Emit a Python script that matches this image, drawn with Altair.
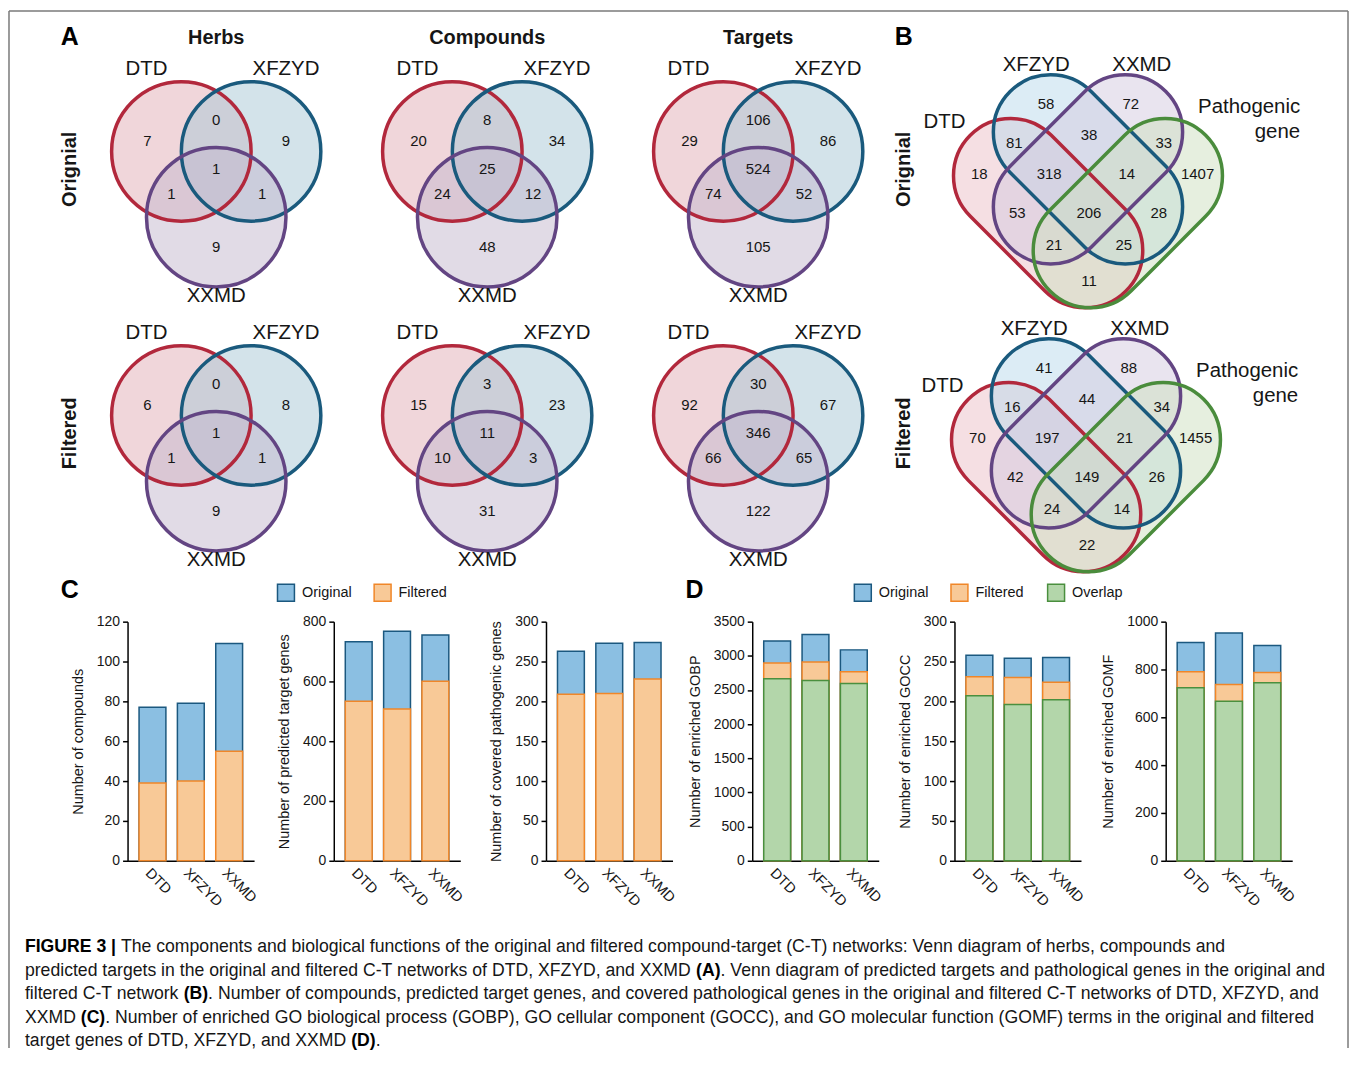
import altair as alt
import pandas as pd

FONT = "Liberation Sans"

# ------------------------------------------------------------------ data
formulas = ["DTD", "XFZYD", "XXMD"]
venn3_titles = ["Herbs", "Compounds", "Targets"]
venn_rows = ["Orignial", "Filtered"]
# region order: DTD only, DTD&XFZYD, XFZYD only, all three, DTD&XXMD, XFZYD&XXMD, XXMD only
herbs_original = [7, 0, 9, 1, 1, 1, 9]
compounds_original = [20, 8, 34, 25, 24, 12, 48]
targets_original = [29, 106, 86, 524, 74, 52, 105]
herbs_filtered = [6, 0, 8, 1, 1, 1, 9]
compounds_filtered = [15, 3, 23, 11, 10, 3, 31]
targets_filtered = [92, 30, 67, 346, 66, 65, 122]

venn4_sets = ["DTD", "XFZYD", "XXMD", "Pathogenic gene"]
venn4_original = [58, 72, 81, 38, 33, 18, 318, 14, 1407, 53, 206, 28, 21, 25, 11]
venn4_filtered = [41, 88, 16, 44, 34, 70, 197, 21, 1455, 42, 149, 26, 24, 14, 22]

series_names = ["Original", "Filtered", "Overlap"]
compounds_orig = [77, 79, 109]
compounds_filt = [39, 40, 55]
target_genes_orig = [733, 768, 755]
target_genes_filt = [534, 508, 601]
patho_genes_orig = [263, 273, 274]
patho_genes_filt = [209, 210, 228]
gobp_orig = [3217, 3313, 3087]
gobp_filt = [2895, 2908, 2766]
gobp_overlap = [2665, 2640, 2595]
gocc_orig = [258, 254, 255]
gocc_filt = [231, 230, 224]
gocc_overlap = [207, 196, 202]
gomf_orig = [913, 953, 900]
gomf_filt = [790, 737, 787]
gomf_overlap = [724, 667, 744]

caption_lines = [
    [("FIGURE 3 | ", True),
     ("The components and biological functions of the original and filtered compound-target (C-T) networks: Venn diagram of herbs, compounds and", False)],
    [("predicted targets in the original and filtered C-T networks of DTD, XFZYD, and XXMD ", False), ("(A)", True),
     (". Venn diagram of predicted targets and pathological genes in the original and", False)],
    [("filtered C-T network ", False), ("(B)", True),
     (". Number of compounds, predicted target genes, and covered pathological genes in the original and filtered C-T networks of DTD, XFZYD, and", False)],
    [("XXMD ", False), ("(C)", True),
     (". Number of enriched GO biological process (GOBP), GO cellular component (GOCC), and GO molecular function (GOMF) terms in the original and filtered", False)],
    [("target genes of DTD, XFZYD, and XXMD ", False), ("(D)", True), (".", False)],
]

# ------------------------------------------------------------------ styles / layout
BORDER = "#7a7a7a"
TXT = "#161616"
SET_STROKE = ["#b2283c", "#1a5a7d", "#634583", "#4a8c3c"]
V3_FILL = ["#e1adb5", "#a7c7d5", "#c3b7cd"]
V4_FILL = ["#ebbfc7", "#b9d9eb", "#d3c9df", "#cddfbf"]
SER_FILL = ["#8bbfe2", "#f8c997", "#b3d6aa"]
SER_STROKE = ["#1b587f", "#f08628", "#4a8f3e"]

PAGE_W = 1345          # drawing width (page x 8 .. 1353)
BAR_TOP, BAR_H = 622, 240
PAGE_BOTTOM = 1050
# the annotation canvas is drawn from the first (spacer) cell of the bar row, in page pixels
XS = alt.Scale(domain=[8, 8 + PAGE_W], range=[0, PAGE_W])
YS = alt.Scale(domain=[8, PAGE_BOTTOM], range=[8 - BAR_TOP, PAGE_BOTTOM - BAR_TOP])

V3_COL_X = [217, 489, 761]
V3_ROW_Y = [172, 437]
V3_R = 70
V3_CIRCLE_OFF = [(-35, -22), (35, -22), (0, 44)]
V3_LABEL_OFF = [(-70, -105), (70, -105), (0, 123)]
V3_REGION_OFF = [(-69, -32), (0, -54), (70, -32), (0, -4), (-45, 21), (46, 21), (0, 74)]

V4_BASES = [(1092, 168), (1090, 433)]
V4_SHAPE_OFF = [(-40, 44, 45), (0, 0, 45), (0, 0, 135), (40, 44, 135)]
V4_L, V4_W = 221.0, 115.0
V4_REGION_OFF = [(-42, -66), (43, -66), (-74, -26), (1, -34), (76, -26), (-109, 5), (-39, 5),
                 (39, 5), (110, 5), (-71, 44), (1, 44), (71, 44), (-34, 76), (36, 76), (1, 112)]
V4_LABEL_OFF = [(-144, -48), (-52, -105), (54, -105)]
V4_PATHO_OFF = [(213, -63), (213, -37)]


def stadium_path(L, W):
    h = W / L
    a = 1.0 - h
    k = 0.5523 * h
    f = lambda v: f"{v:.4f}"
    return (f"M {f(-a)} {f(-h)} L {f(a)} {f(-h)} "
            f"C {f(a + k)} {f(-h)} 1 {f(-k)} 1 0 "
            f"C 1 {f(k)} {f(a + k)} {f(h)} {f(a)} {f(h)} "
            f"L {f(-a)} {f(h)} "
            f"C {f(-a - k)} {f(h)} -1 {f(k)} -1 0 "
            f"C -1 {f(-k)} {f(-a - k)} {f(-h)} {f(-a)} {f(-h)} Z")


def pos():
    return dict(x=alt.X("x:Q", scale=XS, axis=None), y=alt.Y("y:Q", scale=YS, axis=None))


def text_layer(rows, **kw):
    mk = dict(font=FONT, color=TXT)
    mk.update(kw)
    return alt.Chart(pd.DataFrame(rows)).mark_text(**mk).encode(text="t:N", **pos())


# ------------------------------------------------------------------ Venn diagrams
v3_counts = [[herbs_original, compounds_original, targets_original],
             [herbs_filtered, compounds_filtered, targets_filtered]]
circ_rows, num_rows, lab_rows = [], [], []
for ri, by in enumerate(V3_ROW_Y):
    for ci, bx in enumerate(V3_COL_X):
        for si, (dx, dy) in enumerate(V3_CIRCLE_OFF):
            circ_rows.append(dict(x=bx + dx, y=by + dy, fill=V3_FILL[si], stroke=SET_STROKE[si]))
        for (dx, dy), n in zip(V3_REGION_OFF, v3_counts[ri][ci]):
            num_rows.append(dict(x=bx + dx, y=by + dy, t=str(n)))
        for (dx, dy), name in zip(V3_LABEL_OFF, formulas):
            lab_rows.append(dict(x=bx + dx, y=by + dy, t=name))

v4_counts = [venn4_original, venn4_filtered]
shape_rows, patho_rows = [], []
for ri, (bx, by) in enumerate(V4_BASES):
    for si, (dx, dy, ang) in enumerate(V4_SHAPE_OFF):
        shape_rows.append(dict(x=bx + dx, y=by + dy, ang=ang, fill=V4_FILL[si], stroke=SET_STROKE[si]))
    for (dx, dy), n in zip(V4_REGION_OFF, v4_counts[ri]):
        num_rows.append(dict(x=bx + dx, y=by + dy, t=str(n)))
    for (dx, dy), name in zip(V4_LABEL_OFF, venn4_sets[:3]):
        lab_rows.append(dict(x=bx + dx, y=by + dy, t=name))
    for (dx, dy), word in zip(V4_PATHO_OFF, venn4_sets[3].split(" ")):
        patho_rows.append(dict(x=bx + dx, y=by + dy, t=word))

circ_df = pd.DataFrame(circ_rows)
shape_df = pd.DataFrame(shape_rows)
SHAPE = stadium_path(V4_L, V4_W)

circle_fill = alt.Chart(circ_df).mark_point(
    shape="circle", filled=True, size=(2 * V3_R) ** 2, opacity=1, fillOpacity=0.5, strokeWidth=0
).encode(fill=alt.Fill("fill:N", scale=None), **pos())
circle_line = alt.Chart(circ_df).mark_point(
    shape="circle", filled=False, size=(2 * V3_R) ** 2, opacity=1, strokeWidth=3.5
).encode(stroke=alt.Stroke("stroke:N", scale=None), **pos())
shape_fill = alt.Chart(shape_df).mark_point(
    shape=SHAPE, filled=True, size=V4_L ** 2, opacity=1, fillOpacity=0.5, strokeWidth=0
).encode(fill=alt.Fill("fill:N", scale=None), angle=alt.Angle("ang:Q", scale=None), **pos())
shape_line = alt.Chart(shape_df).mark_point(
    shape=SHAPE, filled=False, size=V4_L ** 2, opacity=1, strokeWidth=3.5
).encode(stroke=alt.Stroke("stroke:N", scale=None), angle=alt.Angle("ang:Q", scale=None), **pos())

title_rows = [dict(x=x, y=36, t=t) for x, t in zip(V3_COL_X, venn3_titles)]
rowlab_rows = [dict(x=x, y=y, t=t) for x in (70, 907) for y, t in zip((168, 433), venn_rows)]
letter_rows = [dict(x=70, y=35, t="A"), dict(x=907, y=35, t="B"),
               dict(x=70, y=590, t="C"), dict(x=697, y=590, t="D")]

# legends for C and D (same series colours as the bars)
LEG_C = [(287, 0), (384, 1)]
LEG_D = [(866, 0), (963, 1), (1060, 2)]
leg_sq, leg_txt = [], []
for lx, si in LEG_C + LEG_D:
    leg_sq.append(dict(x=lx, y=593, fill=SER_FILL[si], stroke=SER_STROKE[si]))
    leg_txt.append(dict(x=lx + 16, y=593, t=series_names[si]))
legend_sq = alt.Chart(pd.DataFrame(leg_sq)).mark_square(size=289, opacity=1, strokeWidth=1.5).encode(
    fill=alt.Fill("fill:N", scale=None), stroke=alt.Stroke("stroke:N", scale=None), **pos())

border_rows = [dict(x=9, y=9, x2=1353, y2=9), dict(x=9, y=9, x2=9, y2=PAGE_BOTTOM),
               dict(x=1353, y=9, x2=1353, y2=PAGE_BOTTOM)]
border = alt.Chart(pd.DataFrame(border_rows)).mark_rule(color=BORDER, strokeWidth=1.5).encode(
    x2="x2:Q", y2="y2:Q", **pos())

# ------------------------------------------------------------------ caption
HELV = {' ': 278, '(': 333, ')': 333, ',': 278, '-': 333, '.': 278, ':': 278, '|': 260,
        'A': 667, 'B': 667, 'C': 722, 'D': 722, 'E': 667, 'F': 611, 'G': 778, 'H': 722, 'I': 278,
        'J': 500, 'K': 667, 'L': 556, 'M': 833, 'N': 722, 'O': 778, 'P': 667, 'Q': 778, 'R': 722,
        'S': 667, 'T': 611, 'U': 722, 'V': 667, 'W': 944, 'X': 667, 'Y': 667, 'Z': 611,
        'a': 556, 'b': 556, 'c': 500, 'd': 556, 'e': 556, 'f': 278, 'g': 556, 'h': 556, 'i': 222,
        'j': 222, 'k': 500, 'l': 222, 'm': 833, 'n': 556, 'o': 556, 'p': 556, 'q': 556, 'r': 333,
        's': 500, 't': 278, 'u': 556, 'v': 500, 'w': 722, 'x': 500, 'y': 500, 'z': 500}
HELV_B = {' ': 278, '(': 333, ')': 333, '.': 278, '|': 280, 'A': 722, 'B': 722, 'C': 722, 'D': 722,
          'E': 667, 'F': 611, 'G': 778, 'I': 278, 'R': 722, 'U': 722}


def units(s, bold):
    tbl = HELV_B if bold else HELV
    return sum(tbl.get(ch, HELV.get(ch, 556)) for ch in s)


def line_units(segs):
    return sum(units(s if i < len(segs) - 1 else s.rstrip(), b) for i, (s, b) in enumerate(segs))


CAP_X0 = 25
CAP_LINE_END = [1275, 1323, 1323, 1281]           # right ends of the full lines in the figure
fits = [(end - CAP_X0) / line_units(segs) * 1000 for end, segs in zip(CAP_LINE_END, caption_lines)]
CAP_FS = sum(fits) / len(fits)
CAP_Y = [949, 972.5, 996, 1019.5, 1043]
cap_norm, cap_bold = [], []
for ly, segs in zip(CAP_Y, caption_lines):
    x = CAP_X0
    for s, b in segs:
        (cap_bold if b else cap_norm).append(dict(x=x, y=ly, t=s.rstrip()))
        x += units(s, b) * CAP_FS / 1000

canvas = alt.layer(
    border,
    circle_fill, shape_fill, circle_line, shape_line,
    text_layer(num_rows, fontSize=15),
    text_layer(lab_rows, fontSize=20.5),
    text_layer(patho_rows, fontSize=20.5, align="right"),
    text_layer(title_rows, fontSize=20, fontWeight="bold"),
    text_layer(rowlab_rows, fontSize=20, fontWeight="bold", angle=270),
    text_layer(letter_rows, fontSize=25, fontWeight="bold", color="black"),
    legend_sq,
    text_layer(leg_txt, fontSize=14.5, align="left"),
    text_layer(cap_norm, fontSize=CAP_FS, align="left"),
    text_layer(cap_bold, fontSize=CAP_FS, align="left", fontWeight="bold", color="black"),
).properties(width=120, height=BAR_H)


# ------------------------------------------------------------------ bar charts
def bar_chart(series_vals, ymax, ystep, title):
    rows = []
    for k, (name, vals) in enumerate(series_vals):
        for f, v in zip(formulas, vals):
            rows.append({"formula": f, "series": name, "value": v, "k": k})
    df = pd.DataFrame(rows)
    return alt.Chart(df).mark_bar(strokeWidth=1.5).encode(
        x=alt.X("formula:N", sort=formulas,
                scale=alt.Scale(paddingInner=0.3, paddingOuter=0.3),
                axis=alt.Axis(title=None, labelAngle=45, ticks=False, domainColor="black",
                              domainWidth=1.5, labelFontSize=14.5, labelColor=TXT, labelPadding=5)),
        y=alt.Y("value:Q", stack=None, scale=alt.Scale(domain=[0, ymax], nice=False),
                axis=alt.Axis(values=list(range(0, ymax + 1, ystep)), format="d", title=title, grid=False,
                              domainColor="black", domainWidth=1.5, tickColor="black", tickWidth=1.5,
                              tickSize=5, labelFontSize=14, labelColor=TXT, labelPadding=3,
                              titleFontSize=14.5, titleFontWeight="normal", titleColor=TXT,
                              titlePadding=11)),
        fill=alt.Fill("series:N", scale=alt.Scale(domain=series_names, range=SER_FILL), legend=None),
        stroke=alt.Stroke("series:N", scale=alt.Scale(domain=series_names, range=SER_STROKE), legend=None),
        order=alt.Order("k:Q"),
    ).properties(width=127, height=BAR_H)


def spacer(w):
    return alt.Chart(pd.DataFrame({"v": [0]})).mark_point(opacity=0, size=1).encode(
        x=alt.value(w / 2), y=alt.value(BAR_H / 2)).properties(width=w, height=BAR_H)


c1 = bar_chart([("Original", compounds_orig), ("Filtered", compounds_filt)], 120, 20, "Number of compounds")
c2 = bar_chart([("Original", target_genes_orig), ("Filtered", target_genes_filt)], 800, 200,
               "Number of predicted target genes")
c3 = bar_chart([("Original", patho_genes_orig), ("Filtered", patho_genes_filt)], 300, 50,
               "Number of covered pathogenic genes")
d1 = bar_chart([("Original", gobp_orig), ("Filtered", gobp_filt), ("Overlap", gobp_overlap)], 3500, 500,
               "Number of enriched GOBP")
d2 = bar_chart([("Original", gocc_orig), ("Filtered", gocc_filt), ("Overlap", gocc_overlap)], 300, 50,
               "Number of enriched GOCC")
d3 = bar_chart([("Original", gomf_orig), ("Filtered", gomf_filt), ("Overlap", gomf_overlap)], 1000, 200,
               "Number of enriched GOMF")

chart = alt.hconcat(
    canvas, c1, spacer(80), c2, spacer(86), c3, spacer(80), d1,
    spacer(76), d2, spacer(85), d3, spacer(56),
    spacing=0, bounds="flush",
).resolve_scale(
    x="independent", y="independent", fill="independent", stroke="independent"
).properties(padding=0).configure(font=FONT).configure_view(strokeWidth=0, stroke="transparent")

chart.save("out.html", embed_options={"renderer": "svg", "actions": False})
